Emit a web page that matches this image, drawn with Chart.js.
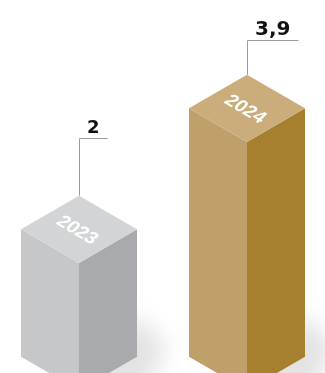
<!DOCTYPE html>
<html>
<head>
<meta charset="utf-8">
<script src="https://cdn.jsdelivr.net/npm/chart.js@4/dist/chart.umd.min.js"></script>
<style>
  html, body { margin: 0; padding: 0; background: #ffffff; }
  #c { display: block; }
</style>
</head>
<body>
<canvas id="c" width="325" height="373"></canvas>
<script>
// ---- data ----
const categories = ['2023', '2024'];
const values = [2, 3.9];
const valueLabels = ['2', '3,9'];

// ---- styles ----
const faceColors = [
  { top: '#d3d4d6', left: '#c6c7c9', right: '#a9aaad' },
  { top: '#caad7b', left: '#c0a06a', right: '#a6802e' }
];
const labelFonts = ['bold 18px "DejaVu Sans"', 'bold 20px "DejaVu Sans"'];
const leaderLengths = [58, 35];

const iso = {
  id: 'iso3d',
  beforeDatasetsDraw(chart) {
    const ctx = chart.ctx;
    const meta = chart.getDatasetMeta(0);
    meta.data.forEach((el) => {
      const x = el.x, base = el.base, hw = el.width / 2;
      ctx.save();
      ctx.filter = 'blur(11px)';
      ctx.fillStyle = 'rgba(0,0,0,0.11)';
      ctx.beginPath();
      ctx.moveTo(x, base - 30);
      ctx.lineTo(x + hw, base - 75);
      ctx.lineTo(x + hw + 30, base - 45);
      ctx.lineTo(x + hw + 12, base - 4);
      ctx.lineTo(x + 10, base + 12);
      ctx.closePath();
      ctx.fill();
      ctx.restore();
    });
  },
  afterDatasetsDraw(chart) {
    const ctx = chart.ctx;
    const meta = chart.getDatasetMeta(0);
    meta.data.forEach((el, i) => {
      const x = el.x, top = el.y, base = el.base, hw = el.width / 2;
      const rise = hw * 0.58;
      const col = faceColors[i];
      ctx.save();
      // left face
      ctx.fillStyle = col.left;
      ctx.beginPath();
      ctx.moveTo(x - hw, top - rise);
      ctx.lineTo(x, top);
      ctx.lineTo(x, base);
      ctx.lineTo(x - hw, base - rise);
      ctx.closePath();
      ctx.fill();
      // right face
      ctx.fillStyle = col.right;
      ctx.beginPath();
      ctx.moveTo(x, top);
      ctx.lineTo(x + hw, top - rise);
      ctx.lineTo(x + hw, base - rise);
      ctx.lineTo(x, base);
      ctx.closePath();
      ctx.fill();
      // top face
      ctx.fillStyle = col.top;
      ctx.beginPath();
      ctx.moveTo(x, top);
      ctx.lineTo(x - hw, top - rise);
      ctx.lineTo(x, top - 2 * rise);
      ctx.lineTo(x + hw, top - rise);
      ctx.closePath();
      ctx.fill();
      // year text on the top face
      ctx.setTransform(0.863, 0.506, -0.70, 0.70, x - 2, top - rise + 1);
      ctx.fillStyle = '#ffffff';
      ctx.font = 'bold 19px "Liberation Sans", Arial, sans-serif';
      ctx.textAlign = 'center';
      ctx.textBaseline = 'middle';
      ctx.fillText(categories[i], 0, 0);
      ctx.setTransform(1, 0, 0, 1, 0, 0);
      // value label with leader line
      const apex = top - 2 * rise;
      const lineY = Math.round(apex - leaderLengths[i]) + 0.5;
      ctx.font = labelFonts[i];
      const tw = ctx.measureText(valueLabels[i]).width;
      const lineLen = tw + 16;
      ctx.strokeStyle = '#9b9b9b';
      ctx.lineWidth = 1;
      ctx.beginPath();
      ctx.moveTo(Math.round(x) + 0.5, apex);
      ctx.lineTo(Math.round(x) + 0.5, lineY);
      ctx.lineTo(Math.round(x) + lineLen, lineY);
      ctx.stroke();
      ctx.fillStyle = '#111111';
      ctx.textAlign = 'center';
      ctx.textBaseline = 'alphabetic';
      ctx.fillText(valueLabels[i], x + lineLen / 2, lineY - 6);
      ctx.restore();
    });
  }
};

new Chart(document.getElementById('c'), {
  type: 'bar',
  data: {
    labels: categories,
    datasets: [{
      data: values,
      backgroundColor: 'rgba(0,0,0,0)',
      borderWidth: 0,
      barThickness: 116
    }]
  },
  options: {
    responsive: false,
    devicePixelRatio: 1,
    animation: false,
    layout: { padding: { left: 79, right: 78, top: 0, bottom: 3 } },
    plugins: { legend: { display: false }, tooltip: { enabled: false } },
    scales: {
      x: { display: false, offset: false },
      y: { display: false, min: 0.32, max: 6.13 }
    }
  },
  plugins: [iso]
});
</script>
</body>
</html>
